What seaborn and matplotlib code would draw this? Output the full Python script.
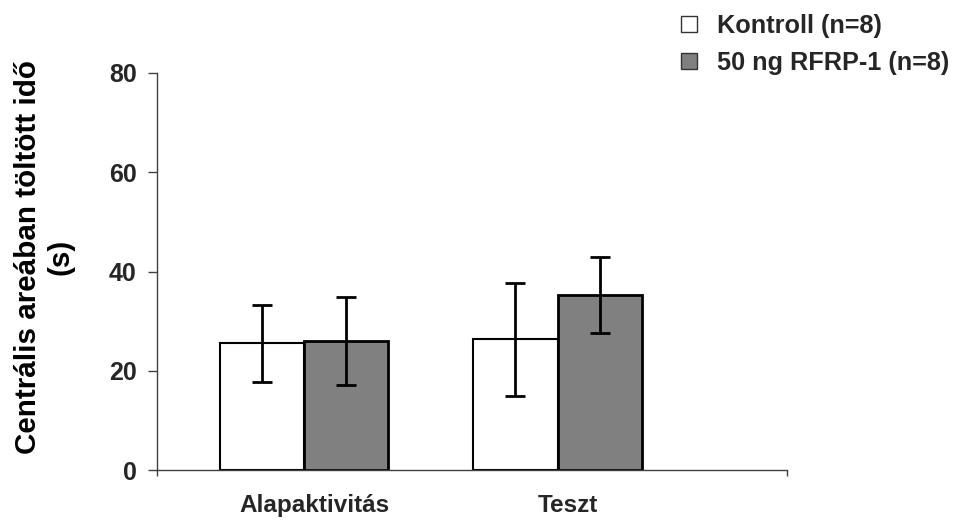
import matplotlib
matplotlib.use('Agg')
import matplotlib.pyplot as plt
import matplotlib.transforms as mtransforms
from matplotlib.patches import Patch
import seaborn as sns
import pandas as pd

# ---- data ----
phases = ['Alapaktivitás', 'Teszt']
groups = ['Kontroll (n=8)', '50 ng RFRP-1 (n=8)']
kontroll_mean = [25.5, 26.3]
kontroll_sem = [7.7, 11.3]
rfrp_mean = [26.0, 35.3]
rfrp_sem = [8.9, 7.7]
yticks = [0, 20, 40, 60, 80]
ylabel = 'Centrális areában töltött idő\n(s)'

sns.set_theme(style='white')
plt.rcParams['font.family'] = ['Liberation Sans', 'DejaVu Sans']
plt.rcParams['font.weight'] = 'bold'

df = pd.DataFrame({
    'phase': phases * 2,
    'group': [groups[0]] * len(phases) + [groups[1]] * len(phases),
    'value': kontroll_mean + rfrp_mean,
})
sems = [kontroll_sem, rfrp_sem]
colors = ['white', '#808080']

fig = plt.figure(figsize=(9.65, 5.24), dpi=100)
ax = fig.add_axes([157 / 965, 1 - 470 / 524, (787 - 157) / 965, (470 - 73) / 524])

sns.barplot(data=df, x='phase', y='value', hue='group', order=phases,
            hue_order=groups, palette=colors, edgecolor='black',
            linewidth=1.5, width=0.666, errorbar=None, saturation=1,
            legend=False, ax=ax)

bar_conts = [c for c in ax.containers
             if all(p is not None and hasattr(p, 'get_x') for p in c)]
for i, cont in enumerate(bar_conts):
    xs = [p.get_x() + p.get_width() / 2 for p in cont]
    hs = [p.get_height() for p in cont]
    for p in cont:
        p.set_linewidth(1.5 if i == 0 else 2.0)
    ax.errorbar(xs, hs, yerr=sems[i], fmt='none', ecolor='black',
                elinewidth=2.0, capsize=7, capthick=2.0, zorder=5)

xmin, xmax = -0.58, 1.905
ax.set_xlim(xmin, xmax)
ax.set_ylim(0, 80)
ax.set_yticks(yticks)
ax.set_yticklabels([str(t) for t in yticks], fontsize=18, fontweight='bold')

ax.set_xticks([xmin, xmax])
ax.set_xticklabels(['', ''])
ax.set_xticks([0, 1], minor=True)
ax.set_xticklabels(phases, minor=True, fontsize=17.5, fontweight='bold')
ax.tick_params(axis='x', which='major', direction='out', length=4.5, width=1,
               color='#404040', bottom=True)
ax.tick_params(axis='x', which='minor', length=0, pad=17, bottom=True)
ax.tick_params(axis='y', direction='out', length=6.5, width=1,
               color='#404040', pad=8, left=True)
offset = mtransforms.ScaledTranslation(10 / 100, 0, fig.dpi_scale_trans)
for lab in ax.get_xticklabels(minor=True):
    lab.set_transform(lab.get_transform() + offset)

ax.set_xlabel('')
ax.set_ylabel('')
for s in ['top', 'right']:
    ax.spines[s].set_visible(False)
for s in ['left', 'bottom']:
    ax.spines[s].set_color('#404040')
    ax.spines[s].set_linewidth(1.0)

fig.text(44 / 965, 1 - 257 / 524, ylabel, rotation=90, ha='center',
         va='center', multialignment='center', fontsize=21.3,
         fontweight='bold', color='black')

handles = [Patch(facecolor=c, edgecolor='#333333', linewidth=1) for c in colors]
fig.legend(handles=handles, labels=groups, loc='upper left',
           bbox_to_anchor=(681 / 965, 1 - 14 / 524), frameon=False,
           prop={'size': 18.2, 'weight': 'bold'}, handlelength=0.62,
           handleheight=0.62, handletextpad=0.8, labelspacing=0.52,
           borderpad=0, borderaxespad=0)

fig.savefig('out.png', dpi=100, facecolor='white')
